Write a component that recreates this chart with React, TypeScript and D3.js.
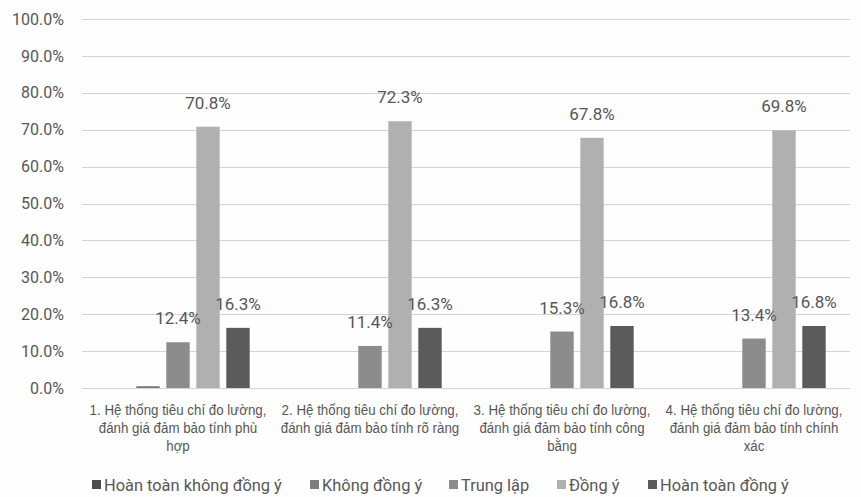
import React from "react";
import * as d3 from "d3";

// Survey answers per criterion (share of respondents)
const categories = [
  ["1. Hệ thống tiêu chí đo lường,", "đánh giá đảm bảo tính phù", "hợp"],
  ["2. Hệ thống tiêu chí đo lường,", "đánh giá đảm bảo tính rõ ràng"],
  ["3. Hệ thống tiêu chí đo lường,", "đánh giá đảm bảo tính công", "bằng"],
  ["4. Hệ thống tiêu chí đo lường,", "đánh giá đảm bảo tính chính", "xác"],
];
const seriesNames = [
  "Hoàn toàn không đồng ý",
  "Không đồng ý",
  "Trung lập",
  "Đồng ý",
  "Hoàn toàn đồng ý",
];
const hoanToanKhongDongY = [0.0, 0.0, 0.0, 0.0];
const khongDongY = [0.005, 0.0, 0.0, 0.0];
const trungLap = [0.124, 0.114, 0.153, 0.134];
const dongY = [0.708, 0.723, 0.678, 0.698];
const hoanToanDongY = [0.163, 0.163, 0.168, 0.168];
const seriesValues = [hoanToanKhongDongY, khongDongY, trungLap, dongY, hoanToanDongY];
const yTicks = [0, 0.1, 0.2, 0.3, 0.4, 0.5, 0.6, 0.7, 0.8, 0.9, 1.0];

const seriesColors = ["#4e4e4e", "#7d7d7d", "#8c8c8c", "#b0b0b0", "#5b5b5b"];
const textColor = "#575757";

const W = 861;
const H = 497;
const plot = { left: 82, right: 850, top: 19, bottom: 388 };
// legend item starts (marker x), laid out left to right
const legendX = [92, 310, 449, 557, 648];

export default function App() {
  const x0 = d3
    .scaleBand<number>()
    .domain(d3.range(categories.length))
    .range([plot.left, plot.right]);
  const groupWidth = 150;
  const x1 = d3
    .scaleBand<number>()
    .domain(d3.range(seriesNames.length))
    .range([0, groupWidth])
    .paddingInner(0.22)
    .paddingOuter(0.11);
  const y = d3.scaleLinear().domain([0, 1]).range([plot.bottom, plot.top]);
  const fmt = d3.format(".1%");

  const barX = (ci: number, si: number) =>
    (x0(ci) as number) + x0.bandwidth() / 2 - groupWidth / 2 + (x1(si) as number);

  return (
    <svg
      width={W}
      height={H}
      style={{ position: "absolute", left: 0, top: 0, background: "#fff" }}
    >
      <rect width={W} height={H} fill="#fefefe" />
      {/* gridlines */}
      {yTicks.map((t) => (
        <line
          key={"g" + t}
          x1={plot.left}
          x2={plot.right}
          y1={Math.round(y(t)) + 0.5}
          y2={Math.round(y(t)) + 0.5}
          stroke="#d4d4d4"
          strokeWidth={1.2}
        />
      ))}
      {/* y tick labels */}
      {yTicks.map((t) => (
        <text
          key={"t" + t}
          x={64}
          y={y(t)}
          dy="0.35em"
          textAnchor="end"
          fontFamily="Roboto"
          fontSize={16}
          fill={textColor}
        >
          {fmt(t)}
        </text>
      ))}
      {/* bars */}
      {seriesValues.map((vals, si) =>
        vals.map((v, ci) =>
          v > 0 ? (
            <rect
              key={`b${si}-${ci}`}
              x={barX(ci, si)}
              y={y(v)}
              width={x1.bandwidth()}
              height={y(0) - y(v)}
              fill={seriesColors[si]}
            />
          ) : null
        )
      )}
      {/* value labels */}
      {seriesValues.map((vals, si) =>
        vals.map((v, ci) =>
          v >= 0.01 ? (
            <text
              key={`l${si}-${ci}`}
              x={barX(ci, si) + x1.bandwidth() / 2}
              y={y(v) - 18}
              textAnchor="middle"
              fontFamily="Roboto"
              fontSize={17}
              fill={textColor}
            >
              {fmt(v)}
            </text>
          ) : null
        )
      )}
      {/* category labels */}
      {categories.map((lines, ci) => (
        <g
          key={"c" + ci}
          transform={`translate(${(x0(ci) as number) + x0.bandwidth() / 2},0)`}
        >
          {lines.map((ln, li) => (
            <text
              key={li}
              x={0}
              y={415 + li * 18}
              textAnchor="middle"
              fontFamily="Liberation Sans"
              fontSize={15.5}
              fill={textColor}
              transform="scale(0.86,1)"
            >
              {ln}
            </text>
          ))}
        </g>
      ))}
      {/* legend */}
      {seriesNames.map((name, si) => (
        <g key={"lg" + si} transform={`translate(${legendX[si]},0)`}>
          <rect x={0} y={480} width={9} height={9} fill={seriesColors[si]} />
          <text
            x={12}
            y={491}
            fontFamily="Roboto"
            fontSize={16.4}
            fill={textColor}
          >
            {name}
          </text>
        </g>
      ))}
    </svg>
  );
}
